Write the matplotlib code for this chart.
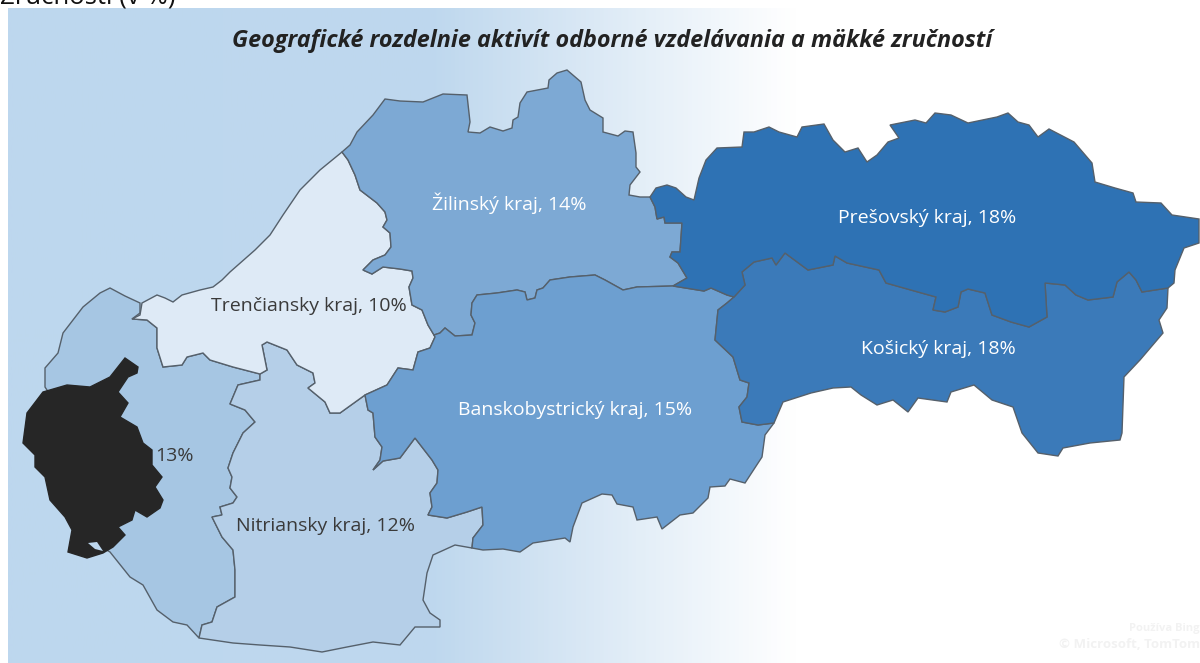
import matplotlib.pyplot as plt
import numpy as np
from matplotlib.colors import LinearSegmentedColormap

plt.rcParams['font.family'] = ['Open Sans', 'DejaVu Sans']

# border pieces, in picture pixels
tn_north = [(132,319),(140,313),(140,303),(125,296),(110,288),(100,293),(83,307),(63,333),(58,353),(45,368),(45,387),
            (60,410),(70,480),(90,540),(110,552)]
tn_south = [(110,552),(130,577),(143,585),(157,610),(173,622),(187,625),(199,638)]
tn_nr = [(199,638),(202,625),(212,622),(217,607),(235,597),(235,570),(233,550),(222,537),(212,517),(222,515),(220,507),
         (233,503),(237,497),(230,488),(232,477),(228,468),(233,453),(243,433),(255,422),(245,410),(230,404),(238,385),
         (260,380),(260,374)]
tn_tc = [(260,374),(233,367),(210,360),(203,353),(187,357),(182,365),(163,367),(157,348),(157,328),(147,320),(132,319)]
tc_north = [(132,319),(140,315),(142,303),(157,295),(165,298),(173,302),(182,295),(200,290),(213,287),(222,280),(230,272),
            (255,250),(270,235),(283,215),(300,190),(320,170),(342,152)]
tc_za = [(342,152),(348,160),(355,175),(360,190),(377,203),(385,212),(387,220),(383,227),(390,233),(391,247),(385,255),
         (373,260),(363,270),(372,274),(383,267),(400,269),(412,271),(413,278),(409,287),(412,305),(422,310),(428,325),(434,335)]
tc_bb = [(434,335),(435,337),(430,348),(418,352),(413,370),(398,368),(387,385),(365,395)]
tc_nr = [(365,395),(340,413),(330,413),(325,402),(308,388),(315,383),(313,373),(297,365),(287,350),(267,342),(262,345),
         (267,370),(260,374)]
za_bb = [(434,335),(440,333),(445,328),(455,336),(472,335),(475,323),(471,315),(472,303),(477,295),(497,293),(517,290),
         (525,292),(527,300),(535,298),(537,290),(543,288),(550,280),(570,277),(595,275),(605,280),(623,290),(637,287),(673,286)]
za_po = [(673,286),(687,278),(678,263),(670,257),(672,252),(680,252),(682,223),(665,223),(664,217),(657,219),(655,207),(650,197)]
za_north = [(650,197),(640,197),(629,195),(630,185),(640,172),(636,167),(636,153),(633,132),(625,131),(618,136),(603,132),
            (603,118),(590,110),(585,100),(581,82),(567,70),(557,73),(549,80),(548,88),(527,92),(520,103),(518,117),(513,120),
            (512,128),(503,131),(490,127),(480,133),(468,132),(470,122),(467,95),(443,94),(423,102),(400,101),(385,99),(373,115),
            (357,132),(350,145),(342,152)]
po_north = [(650,197),(656,188),(667,185),(676,188),(686,197),(694,200),(699,178),(706,160),(717,148),(742,147),(744,132),
            (754,132),(769,127),(779,132),(797,137),(802,127),(824,124),(833,140),(845,152),(858,148),(867,162),(877,155),
            (888,142),(899,138),(890,125),(915,120),(926,123),(935,113),(951,115),(968,123),(997,117),(1008,113),(1018,122),
            (1029,125),(1038,137),(1049,129),(1074,142),(1092,163),(1095,182),(1115,188),(1133,193),(1136,202),(1161,203),
            (1172,215),(1199,219),(1199,243),(1184,248),(1175,270),(1174,283),(1168,288)]
po_ke = [(1168,288),(1142,292),(1136,280),(1129,272),(1117,282),(1113,297),(1088,300),(1076,295),(1065,285),(1045,283),
         (1047,317),(1029,327),(1011,322),(992,315),(985,293),(968,289),(961,292),(958,307),(945,312),(933,310),(936,297),
         (918,292),(886,283),(879,270),(847,263),(835,256),(833,265),(808,270),(785,253),(776,265),(772,258),(754,262),
         (742,272),(745,285),(734,297)]
po_bb = [(734,297),(727,295),(711,288),(704,291),(673,286)]
ke_bb = [(734,297),(727,303),(718,310),(715,340),(733,357),(740,380),(749,383),(747,397),(739,407),(742,422),(758,425),(774,423)]
ke_south = [(774,423),(783,402),(811,393),(833,388),(851,387),(861,395),(877,405),(893,400),(908,412),(918,398),(947,402),
            (951,392),(974,385),(992,400),(1013,407),(1022,433),(1038,453),(1058,456),(1063,448),(1090,443),(1120,440),(1122,433),
            (1124,377),(1140,360),(1163,333),(1159,320),(1167,308),(1168,288)]
bb_south = [(774,423),(765,435),(762,457),(745,483),(730,479),(725,486),(710,487),(708,498),(693,513),(680,515),(662,529),
            (657,517),(637,520),(633,507),(617,504),(612,495),(602,494),(582,503),(573,527),(570,542),(565,538),(533,543),
            (520,552),(503,549),(483,550),(472,548)]
bb_nr = [(365,395),(368,410),(373,413),(375,437),(382,447),(380,460),(373,470),(383,461),(400,458),(415,438),(432,460),
         (438,470),(437,483),(430,493),(432,507),(428,515),(447,518),(467,512),(482,507),(483,525),(473,538),(472,548)]
nr_south = [(472,548),(455,545),(433,555),(427,573),(423,600),(430,613),(440,620),(440,627),(415,627),(400,645),(373,642),
            (347,647),(322,652),(290,647),(260,645),(233,643),(199,638)]
ba_shape = [(125,358),(138,367),(137,373),(128,377),(118,392),(128,403),(120,417),(137,427),(143,443),(152,450),(152,465),
            (162,477),(155,487),(163,500),(160,508),(147,517),(135,510),(132,520),(118,527),(125,535),(113,547),(103,553),
            (87,558),(68,552),(72,530),(65,517),(50,500),(45,477),(35,467),(35,455),(23,443),(27,413),(43,392),(67,385),
            (90,387),(110,377)]
ba_gap = [(88,543),(97,542),(103,551),(95,549)]

# region name, colour, outline
regions = [
    ('Trnavský', '#a6c6e3', tn_north + tn_south + tn_nr + tn_tc),
    ('Nitriansky', '#b5cfe8', tc_nr[::-1] + bb_nr + nr_south + tn_nr),
    ('Trenčiansky', '#deeaf6', tc_north + tc_za + tc_bb + tc_nr + tn_tc),
    ('Žilinský', '#7da9d4', tc_za + za_bb + za_po + za_north),
    ('Banskobystrický', '#6d9fd0', za_bb + po_bb[::-1] + ke_bb + bb_south + bb_nr[::-1] + tc_bb[::-1]),
    ('Košický', '#3b7ab9', po_ke + ke_bb + ke_south),
    ('Prešovský', '#2e72b4', po_north + po_ke + po_bb + za_po),
]

labels = ['Žilinský kraj, 14%', 'Prešovský kraj, 18%', 'Trenčiansky kraj, 10%', 'Košický kraj, 18%',
          'Banskobystrický kraj, 15%', 'Nitriansky kraj, 12%', '13%']
label_x = [509, 927, 309, 938, 575, 326, 174]
label_y = [203, 218, 306, 349, 410, 526, 456]
label_col = ['white', 'white', '#3a3a3a', 'white', 'white', '#3a3a3a', '#3a3a3a']

fig = plt.figure(figsize=(12, 6.63), dpi=100)
ax = fig.add_axes([0, 0, 1, 1])
ax.set_xlim(0, 1200)
ax.set_ylim(663, 0)
ax.axis('off')

bg = LinearSegmentedColormap.from_list('bg', [(0, '#bdd7ee'), (0.36, '#bfd8ee'), (0.66, '#ffffff'), (1, '#ffffff')])
ax.imshow(np.linspace(0, 1, 600).reshape(1, -1), cmap=bg, extent=(8, 1200, 663, 8), aspect='auto', zorder=0)

for name, col, pts in regions:
    xs, ys = zip(*pts)
    ax.fill(xs, ys, facecolor=col, edgecolor='#55606b', linewidth=1.0, zorder=2)

xs, ys = zip(*ba_shape)
ax.fill(xs, ys, facecolor='#262626', edgecolor='#262626', linewidth=1.0, zorder=3)
xs, ys = zip(*ba_gap)
ax.fill(xs, ys, facecolor='#bdd7ee', edgecolor='none', zorder=4)

for t, x, y, c in zip(labels, label_x, label_y, label_col):
    ax.text(x, y, t, color=c, fontsize=14, ha='center', va='center', zorder=5)

ax.text(612, 41, 'Geografické rozdelnie aktivít odborné vzdelávania a mäkké zručností', fontsize=16.8,
        fontweight='bold', fontstyle='italic', color='#222222', ha='center', va='center', zorder=5)
ax.text(0, 3, 'Zručnosti (v %)', fontsize=18.5, color='#111111', ha='left', va='baseline', zorder=5)

ax.text(1200, 628, 'Používa Bing', fontsize=8, fontweight='bold', color='#f2f2f2', ha='right', va='center', zorder=1)
ax.text(1200, 645, '© Microsoft, TomTom', fontsize=9.5, fontweight='bold', color='#f2f2f2', ha='right', va='center', zorder=1)

fig.savefig('out.png', dpi=100)
